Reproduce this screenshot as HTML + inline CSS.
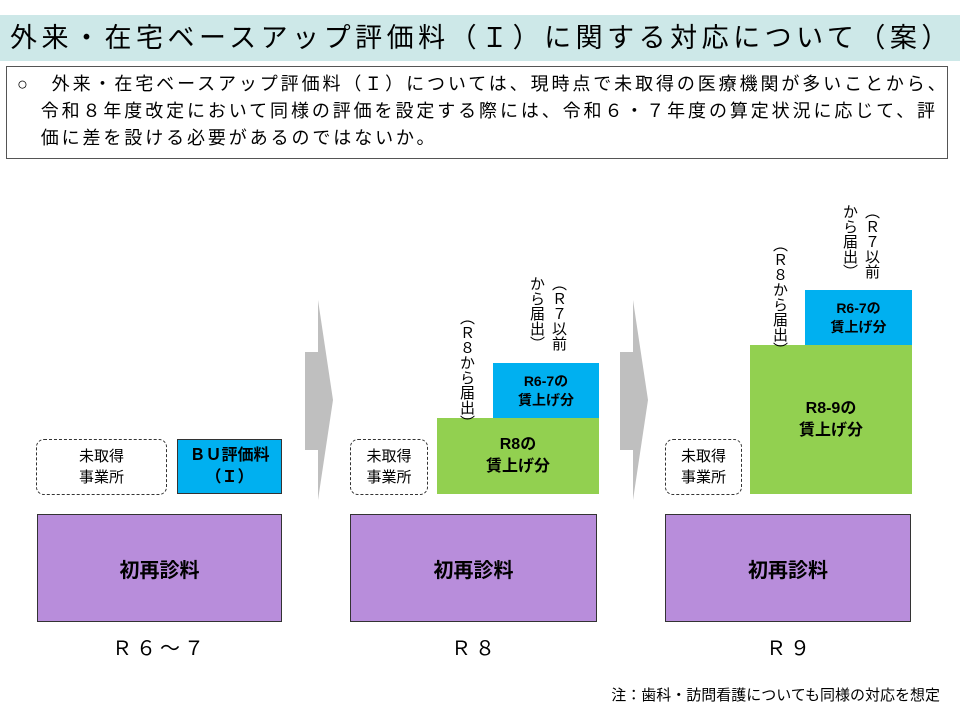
<!DOCTYPE html>
<html><head><meta charset="utf-8"><style>
body{margin:0;width:960px;height:720px;background:#fff;position:relative;overflow:hidden;font-family:"Liberation Sans","Noto Sans CJK JP",sans-serif;color:#000}
.a{position:absolute}
.title{left:0;top:15px;width:960px;height:46px;background:#cde8e8;font-size:27px;line-height:46px;padding-left:10px;box-sizing:border-box;letter-spacing:4.5px;white-space:nowrap}
.box{left:6px;top:66px;width:942px;height:93px;border:1.5px solid #555;box-sizing:border-box;font-size:18px;line-height:27px;padding:4px 0 0 10px;letter-spacing:2.9px;white-space:nowrap}
.purple{background:#b88ddb;border:1.5px solid #333;box-sizing:border-box;display:flex;align-items:center;justify-content:center;font-weight:bold;font-size:20px}
.dash{border:1.8px dashed #333;border-radius:8px;box-sizing:border-box;display:flex;align-items:center;justify-content:center;text-align:center;font-size:15px;line-height:21px}
.blue{background:#00b0f0;display:flex;align-items:center;justify-content:center;text-align:center;font-weight:bold;font-size:14px;line-height:19px}
.green{background:#92d050;display:flex;align-items:center;justify-content:center;text-align:center;font-weight:bold;font-size:16px;line-height:22px}
.v{writing-mode:vertical-rl;font-size:15px;line-height:22px}
.lab{font-size:20px;text-align:center;width:200px;letter-spacing:4px}
</style></head><body>
<div class="a title">外来・在宅ベースアップ評価料（Ｉ）に関する対応について（案）</div>
<div class="a box">○　外来・在宅ベースアップ評価料（Ｉ）については、現時点で未取得の医療機関が多いことから、<br>&nbsp;&nbsp;&nbsp;令和８年度改定において同様の評価を設定する際には、令和６・７年度の算定状況に応じて、評<br>&nbsp;&nbsp;&nbsp;価に差を設ける必要があるのではないか。</div>

<svg class="a" style="left:0;top:0" width="960" height="720">
<polygon points="305,352 318,352 318,300 333,400 318,500 318,450 305,450" fill="#bfbfbf"/>
<polygon points="620,352 633,352 633,300 648,400 633,500 633,450 620,450" fill="#bfbfbf"/>
</svg>

<div class="a dash" style="left:36px;top:439px;width:131px;height:56px">未取得<br>事業所</div>
<div class="a blue" style="left:177px;top:439px;width:105px;height:55px;border:1px solid #333;box-sizing:border-box;font-size:16px;line-height:22px">ＢＵ評価料<br>（Ｉ）</div>

<div class="a dash" style="left:350px;top:439px;width:78px;height:56px">未取得<br>事業所</div>
<div class="a green" style="left:437px;top:418px;width:162px;height:76px">R8の<br>賃上げ分</div>
<div class="a blue" style="left:493px;top:363px;width:106px;height:55px">R6-7の<br>賃上げ分</div>
<div class="a v" style="left:455px;top:310px">（Ｒ８から届出）</div>
<div class="a v" style="left:525px;top:276px">（Ｒ７以前<br>から届出）</div>

<div class="a dash" style="left:665px;top:439px;width:77px;height:56px">未取得<br>事業所</div>
<div class="a green" style="left:750px;top:345px;width:162px;height:149px">R8-9の<br>賃上げ分</div>
<div class="a blue" style="left:805px;top:290px;width:107px;height:55px">R6-7の<br>賃上げ分</div>
<div class="a v" style="left:768px;top:237px">（Ｒ８から届出）</div>
<div class="a v" style="left:838px;top:204px">（Ｒ７以前<br>から届出）</div>

<div class="a purple" style="left:37px;top:514px;width:245px;height:108px">初再診料</div>
<div class="a purple" style="left:350px;top:514px;width:247px;height:108px">初再診料</div>
<div class="a purple" style="left:665px;top:514px;width:246px;height:108px">初再診料</div>

<div class="a lab" style="left:60px;top:632px">Ｒ６～７</div>
<div class="a lab" style="left:375px;top:632px">Ｒ８</div>
<div class="a lab" style="left:690px;top:632px">Ｒ９</div>

<div class="a" style="left:540px;top:684px;font-size:15px;width:400px;text-align:right">注：歯科・訪問看護についても同様の対応を想定</div>
</body></html>
